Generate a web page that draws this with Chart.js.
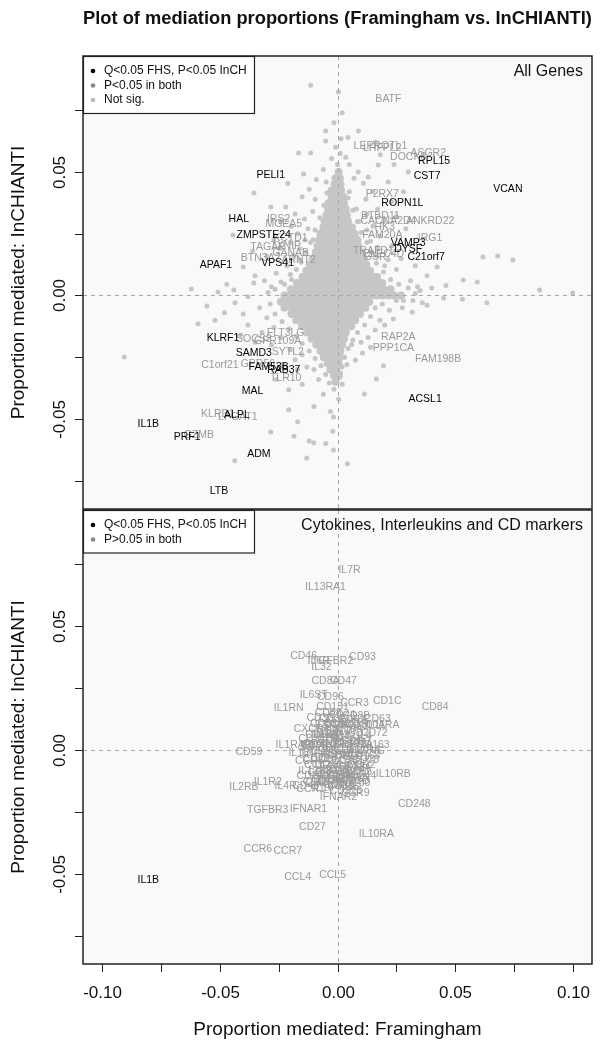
<!DOCTYPE html>
<html>
<head>
<meta charset="utf-8">
<script src="https://cdn.jsdelivr.net/npm/chart.js@4.4.0/dist/chart.umd.min.js"></script>
<style>
html, body { margin: 0; padding: 0; background: #fff; }
#wrap { position: relative; width: 603px; height: 1049px; }
canvas { position: absolute; left: 0; }
</style>
</head>
<body>
<div id="wrap">
  <canvas id="genes" width="603" height="510" style="top:0"></canvas>
  <canvas id="cyto" width="603" height="544" style="top:505px"></canvas>
</div>
<script>
const FONT = "'Liberation Sans', Arial, Helvetica, sans-serif";

// axis ranges and ticks (shared by both panels)
const X_MIN = -0.108, X_MAX = 0.108;
const Y_MIN = -0.0865, Y_MAX = 0.097;
const xTicks = [-0.1, -0.075, -0.05, -0.025, 0, 0.025, 0.05, 0.075, 0.1];
const xTickLabels = ["-0.10", "", "-0.05", "", "0.00", "", "0.05", "", "0.10"];
const yTicks = [-0.075, -0.05, -0.025, 0, 0.025, 0.05, 0.075];
const yTickLabels = ["", "-0.05", "", "0.00", "", "0.05", ""];

// panel 1: dense core of non-significant genes, one row of x values per y
const coreY = [0.05, 0.0475, 0.045, 0.0425, 0.04, 0.0375, 0.035, 0.0325, 0.03, 0.0275, 0.025, 0.0225,
  0.02, 0.0175, 0.015, 0.0125, 0.01, 0.0075, 0.005, 0.0025, 0, -0.0025, -0.005, -0.0075, -0.01,
  -0.0125, -0.015, -0.0175, -0.02, -0.0225, -0.025, -0.0275, -0.03, -0.0325, -0.035];
const coreX = [
  [0.0005],
  [-0.0008, 0.001],
  [-0.00125, 0.00125],
  [-0.0025, 0, 0.0015],
  [-0.0025, 0, 0.0025],
  [-0.00375, -0.00125, 0.00125, 0.00275],
  [-0.004, -0.0015, 0.001, 0.0035],
  [-0.00475, -0.00225, 0.00025, 0.00275, 0.004],
  [-0.0055, -0.003, -0.0005, 0.002, 0.0045],
  [-0.006, -0.0035, -0.001, 0.0015, 0.004, 0.0062],
  [-0.00725, -0.00475, -0.00225, 0.00025, 0.00275, 0.00525, 0.0072],
  [-0.0078, -0.0055, -0.003, -0.0005, 0.002, 0.0045, 0.007, 0.0085],
  [-0.0085, -0.00625, -0.00375, -0.00125, 0.00125, 0.00375, 0.00625, 0.0088],
  [-0.0092, -0.007, -0.0045, -0.002, 0.0005, 0.003, 0.0055, 0.008, 0.0102],
  [-0.0105, -0.00825, -0.00575, -0.00325, -0.00075, 0.00175, 0.00425, 0.00675, 0.00925, 0.0112],
  [-0.0118, -0.01, -0.0075, -0.005, -0.0025, 0, 0.0025, 0.005, 0.0075, 0.01, 0.0122],
  [-0.0132, -0.01125, -0.00875, -0.00625, -0.00375, -0.00125, 0.00125, 0.00375, 0.00625, 0.00875, 0.01125, 0.0138],
  [-0.0148, -0.0125, -0.01, -0.0075, -0.005, -0.0025, 0, 0.0025, 0.005, 0.0075, 0.01, 0.0125, 0.015, 0.0168],
  [-0.0172, -0.01525, -0.01275, -0.01025, -0.00775, -0.00525, -0.00275, -0.00025, 0.00225, 0.00475, 0.00725, 0.00975, 0.01225, 0.01475, 0.0172, 0.019],
  [-0.0198, -0.0175, -0.0155, -0.013, -0.0105, -0.008, -0.0055, -0.003, -0.0005, 0.002, 0.0045, 0.007, 0.0095, 0.012, 0.0145, 0.017, 0.0195, 0.0225],
  [-0.0225, -0.02, -0.0185, -0.016, -0.0135, -0.011, -0.0085, -0.006, -0.0035, -0.001, 0.0015, 0.004, 0.0065, 0.009, 0.0115, 0.014, 0.0165, 0.019, 0.0215, 0.024, 0.027],
  [-0.024, -0.0215, -0.019, -0.016, -0.0135, -0.011, -0.0085, -0.006, -0.0035, -0.001, 0.0015, 0.004, 0.0065, 0.009, 0.0115, 0.0135],
  [-0.0225, -0.0195, -0.017, -0.0145, -0.012, -0.0095, -0.007, -0.0045, -0.002, 0.0005, 0.003, 0.0055, 0.008, 0.0105, 0.0118],
  [-0.0195, -0.0175, -0.015, -0.0125, -0.01, -0.0085, -0.006, -0.0035, -0.001, 0.0015, 0.004, 0.0065, 0.0095],
  [-0.0175, -0.015, -0.0125, -0.0105, -0.0085, -0.006, -0.0035, -0.001, 0.0015, 0.004, 0.0065, 0.0075],
  [-0.015, -0.0125, -0.0105, -0.008, -0.0055, -0.003, -0.0005, 0.002, 0.0045, 0.0058],
  [-0.0128, -0.0105, -0.0085, -0.006, -0.0035, -0.001, 0.0015, 0.0035],
  [-0.011, -0.009, -0.0065, -0.004, -0.0015, 0.001, 0.0028],
  [-0.009, -0.007, -0.0045, -0.002, 0.0005, 0.002],
  [-0.0072, -0.005, -0.0025, 0, 0.0012],
  [-0.0058, -0.0035, -0.001, 0.001],
  [-0.0042, -0.002, 0.0005],
  [-0.003, -0.0005],
  [-0.0015, 0.0005],
  [-0.0008]
];

// panel 1: scattered non-significant genes [FHS, InCHIANTI]
const notSigPoints = [
  [-0.0114, 0.0852], [0.0004, 0.0824], [-0.005, 0.0666], [-0.005, 0.0626], [0.0089, 0.0666], [0.0045, 0.064],
  [-0.0015, 0.07], [0.002, 0.074], [-0.0008, 0.06], [0.0012, 0.0575], [-0.0025, 0.0555], [0.0035, 0.056],
  [0, 0.053], [-0.0165, 0.0577], [-0.0114, 0.0577], [-0.0144, 0.0492], [-0.0211, 0.0455], [-0.0355, 0.0415],
  [0.016, 0.0621], [0.0173, 0.0528], [0.011, 0.0455], [0.0088, 0.05], [0.0015, 0.0635], [0.005, 0.053],
  [0.007, 0.0475], [0.013, 0.048], [-0.006, 0.051], [-0.009, 0.047], [-0.0048, 0.046],
  [-0.0283, 0.0358], [-0.022, 0.0358], [-0.015, 0.04], [-0.012, 0.043], [-0.0095, 0.039], [-0.018, 0.033],
  [-0.024, 0.03], [-0.0195, 0.028], [-0.014, 0.031], [-0.0105, 0.034], [-0.0444, 0.0245], [-0.04, 0.0115],
  [-0.036, 0.018], [-0.03, 0.016], [-0.027, 0.023], [-0.0245, 0.019], [-0.02, 0.0215], [-0.017, 0.025],
  [-0.0185, 0.016], [-0.0215, 0.012], [-0.026, 0.009], [-0.031, 0.006], [-0.035, 0.008], [-0.062, 0.0026],
  [-0.0507, 0.0014], [-0.044, 0.0022], [-0.0355, 0.005], [-0.028, 0.0035], [-0.038, -0.0005], [-0.047, 0.0045],
  [-0.024, 0.0055], [-0.02, 0.0085], [-0.016, 0.019], [-0.0125, 0.027], [-0.0105, 0.0225],
  [0.0182, 0.057], [0.024, 0.053], [0.03, 0.05], [0.0215, 0.046], [0.015, 0.042], [0.012, 0.039], [0.017, 0.035],
  [0.023, 0.038], [0.028, 0.042], [0.0125, 0.033], [0.015, 0.028], [0.0195, 0.03], [0.025, 0.032], [0.029, 0.027],
  [0.018, 0.024], [0.023, 0.02], [0.014, 0.022], [0.027, 0.015], [0.033, 0.012], [0.031, 0.006], [0.038, 0.008],
  [0.0423, 0.0115], [0.0617, 0.0156], [0.068, 0.016], [0.0744, 0.0144], [0.0533, 0.0063], [0.0593, 0.0055],
  [0.0858, 0.0022], [0.0998, 0.001], [0.046, 0.004], [0.04, 0.003], [0.035, 0.002], [0.02, 0.012], [0.0165, 0.016],
  [0.009, 0.03], [0.008, 0.035], [0.005, 0.042],
  [0.0634, -0.003], [0.053, -0.0015], [0.045, -0.001], [0.038, -0.004], [0.036, -0.003], [0.0317, -0.0067],
  [0.0237, -0.0095], [0.0275, -0.005], [0.02, -0.012], [0.016, -0.014], [0.013, -0.017], [0.018, -0.01],
  [0.022, -0.006], [0.0106, -0.0233], [0.0076, -0.0261], [0.0195, -0.0285], [0.0165, -0.0338], [0.0114, -0.0399],
  [0.0013, -0.0314], [-0.0017, -0.0492], [-0.0017, -0.0626], [0.0042, -0.0682], [-0.0015, -0.038], [0.0005, -0.042],
  [-0.002, -0.055], [0.01, -0.019], [0.006, -0.02], [0.014, -0.021], [0.004, -0.028], [0.002, -0.036],
  [0.025, -0.002], [0.028, -0.002],
  [-0.0905, -0.0249], [-0.0592, -0.0115], [-0.0554, -0.0043], [-0.052, -0.01], [-0.048, -0.007], [-0.0435, -0.003],
  [-0.04, -0.0075], [-0.038, -0.012], [-0.033, -0.005], [-0.03, -0.009], [-0.032, -0.015], [-0.027, -0.013],
  [-0.024, -0.017], [-0.028, -0.02], [-0.02, -0.022], [-0.018, -0.026], [-0.015, -0.024], [-0.013, -0.029],
  [-0.017, -0.03], [-0.0207, -0.0382], [-0.015, -0.036], [-0.008, -0.034], [-0.01, -0.03], [-0.006, -0.04],
  [-0.0283, -0.0553], [-0.0436, -0.067], [-0.0207, -0.0463], [-0.0169, -0.0512], [-0.0185, -0.057], [-0.012, -0.059],
  [-0.0101, -0.0597], [-0.0131, -0.0658], [-0.003, -0.047], [-0.005, -0.06], [-0.01, -0.045], [-0.026, -0.034],
  [-0.023, -0.028], [-0.035, -0.019], [-0.041, -0.016],
  // halo around the core
  [-0.0115, 0.0215], [-0.0135, 0.0175], [-0.0155, 0.0135], [-0.0175, 0.0105], [-0.0195, 0.0065], [-0.0225, 0.0045],
  [-0.0265, 0.0025], [-0.0295, 0.0012], [-0.0095, 0.0265], [-0.0075, 0.0315], [-0.0058, 0.0365], [-0.0045, 0.0415],
  [-0.0138, 0.0225], [-0.016, 0.0145],
  [0.0125, 0.0215], [0.0145, 0.0175], [0.0165, 0.013], [0.0195, 0.0095], [0.0225, 0.0065], [0.026, 0.0045],
  [0.03, 0.003], [0.033, 0.0008], [0.01, 0.0255], [0.0085, 0.03], [0.0065, 0.0345], [0.0045, 0.0395],
  [0.0125, 0.0265], [0.017, 0.0195], [0.0215, 0.0145], [0.025, 0.0105], [0.0105, 0.0165],
  [-0.0285, -0.0035], [-0.0265, -0.0075], [-0.0235, -0.0105], [-0.0205, -0.0135], [-0.0175, -0.0165],
  [-0.015, -0.0195], [-0.012, -0.0225], [-0.0095, -0.0255], [-0.007, -0.0285], [-0.005, -0.032], [-0.0035, -0.0355],
  [0.016, -0.005], [0.014, -0.0085], [0.0115, -0.012], [0.0085, -0.015], [0.0065, -0.018], [0.0045, -0.0215],
  [0.003, -0.025], [0.002, -0.029], [0.001, -0.033], [0.019, -0.0035], [0.032, -0.002], [0.034, 0.0035]
];

// panel 1: Q<0.05 FHS, P<0.05 InCH (black labels)
const sigGenes = ["PELI1", "HAL", "ZMPSTE24", "APAF1", "VPS41", "RPL15", "CST7", "VCAN", "ROPN1L", "VAMP3",
  "DYSF", "C21orf7", "KLRF1", "SAMD3", "FAM53B", "RAB37", "MAL", "ALPL", "IL1B", "PRF1", "ADM", "LTB", "ACSL1"];
const sigGenesX = [-0.0283, -0.0419, -0.0313, -0.0516, -0.0254, 0.041, 0.038, 0.0723, 0.0275, 0.03,
  0.03, 0.0376, -0.0486, -0.0355, -0.0292, -0.0228, -0.036, -0.0427, -0.0803, -0.0638, -0.0334, -0.0503, 0.0372];
const sigGenesY = [0.0488, 0.031, 0.0245, 0.0123, 0.0132, 0.0545, 0.0484, 0.0431, 0.0374, 0.0213,
  0.0188, 0.0156, -0.0172, -0.0233, -0.029, -0.0302, -0.0387, -0.0484, -0.052, -0.0573, -0.0642, -0.0791, -0.0419];

// panel 1: P<0.05 in both (grey labels)
const bothGenes = ["BATF", "LEPROTL1", "LHFPL2", "ASGR2", "DOCK8", "P2RX7", "BTBD11", "CACNA2D4", "ANKRD22",
  "HK3", "FAM20A", "IRG1", "TRAFD1", "CLEC4D", "GSR", "IRS2", "MGEA5", "KCTD1", "TAGAP", "TXNIP", "BTN3A2",
  "GANAB", "ARNT2", "SOCS3", "FLT3LG", "GPR109A", "SYTL2", "C1orf21", "GPR56", "TLR10", "KLRD1", "LPGAT1",
  "GZMB", "RAP2A", "PPP1CA", "FAM198B"];
const bothGenesX = [0.0216, 0.0182, 0.019, 0.0385, 0.03, 0.019, 0.0182, 0.0216, 0.0393,
  0.02, 0.019, 0.0393, 0.0152, 0.0195, 0.016, -0.025, -0.0228, -0.02, -0.0296, -0.022, -0.0326,
  -0.0199, -0.0165, -0.0355, -0.022, -0.0254, -0.0211, -0.0499, -0.0338, -0.022, -0.0507, -0.0423,
  -0.0588, 0.0258, 0.0237, 0.0427];
const bothGenesY = [0.0796, 0.0605, 0.0597, 0.0577, 0.056, 0.041, 0.0322, 0.03, 0.0302,
  0.0277, 0.0245, 0.0233, 0.018, 0.0168, 0.0156, 0.031, 0.029, 0.0233, 0.0196, 0.02, 0.0152,
  0.0172, 0.0144, -0.0176, -0.0152, -0.0184, -0.0229, -0.0281, -0.0277, -0.0334, -0.048, -0.0492,
  -0.0565, -0.0168, -0.0213, -0.0257];

// panel 2: cytokines, interleukins and CD markers
const cytoSig = ["IL1B"];
const cytoSigX = [-0.0803];
const cytoSigY = [-0.0524];
const cytoNames = ["IL7R", "IL13RA1", "CD46", "IL6R", "TGFBR2", "CD93", "IL32", "CD8A", "CD47", "IL6ST",
  "CD96", "CCR3", "CD1C", "CD84", "IL1RN", "CD151", "CD63", "CD300A", "IL11RA", "CD72", "CD163", "IFNG",
  "CD164", "CD59", "IL1RAP", "IL18", "IL10RB", "IL1R2", "IL2RB", "IL4R", "CD40", "CCR1", "CD39", "IFNAR2",
  "IFNAR1", "TGFBR3", "CD248", "CD27", "IL10RA", "CCR6", "CCR7", "CCL4", "CCL5",
  "CD58", "CD3E", "CD44", "CD52", "CD53", "CD37", "CD74", "CD97", "CD2", "CD69", "CD82", "CD5", "CD6", "CD7",
  "CD99", "IL2RG", "CD86", "CD83", "CD14", "CD19", "CD22", "CD33", "CD36", "CD38", "CD48", "CD55", "CD68",
  "CD70", "CD79A", "CD79B", "CD80", "CD101", "IL15", "IL16", "IL17RA", "IL18R1", "IL21R", "IL27RA", "CXCR4",
  "IL12RB1", "CCR2", "CCR5", "CD226",
  "CD3D", "CD3G", "CD8B", "CD24", "CD28", "CD9", "CD81", "CD160", "CD180", "CD200", "CD244", "CD247",
  "CD274", "CD276", "CD320", "IL4", "IL5RA", "IL8", "IL10", "IL12A", "IL23A", "CCL2", "CCL3", "CCR4",
  "CCR9", "TNF", "TNFRSF1A", "TNFRSF1B", "IFNGR1", "TGFB1", "TGFBR1", "CD1D"];
const cytoX = [0.0051, -0.0051, -0.0144, -0.008, -0.0021, 0.0106, -0.0068, -0.0051, 0.0025, -0.0101,
  -0.003, 0.0072, 0.0211, 0.0414, -0.0207, -0.0021, 0.0169, 0.0118, 0.019, 0.0156, 0.0152, 0.0148,
  0.0114, -0.0376, -0.0186, -0.0165, 0.0237, -0.0296, -0.0397, -0.022, -0.0135, -0.0114, 0.0013, 0.0004,
  -0.0123, -0.0296, 0.0326, -0.0106, 0.0165, -0.0338, -0.0211, -0.0169, -0.0021,
  -0.004, -0.002, 0.002, 0.006, -0.006, 0, 0.005, -0.003, 0.009, -0.008, 0.002, -0.004, 0.006, 0.01,
  -0.01, 0, 0.004, -0.006, -0.0005, 0.008, -0.009, 0.003, -0.004, 0.006, -0.001, 0.009, -0.007,
  0.002, 0.006, -0.004, -0.009, 0.001, 0.005, -0.006, 0.011, -0.002, 0.0075, -0.0015, -0.011,
  -0.008, 0.01, -0.012, 0.0035,
  0.003, -0.007, 0.008, -0.011, 0.012, 0.0065, -0.0025, -0.0065, 0.007, -0.0105, 0.0095, -0.0045,
  0.0025, 0.0055, -0.0075, 0.0115, -0.0035, -0.0125, 0.0035, -0.0055, 0.0085, -0.0085, 0.0045, -0.0025,
  0.0075, -0.0015, 0.0035, -0.0045, 0.0005, -0.0085, 0.0035, 0.0075];
const cytoY = [0.0727, 0.0658, 0.0379, 0.0358, 0.0358, 0.0375, 0.0334, 0.0277, 0.0277, 0.0221,
  0.0213, 0.0188, 0.0196, 0.0172, 0.0168, 0.0172, 0.0124, 0.01, 0.0099, 0.0067, 0.0018, -0.0006,
  -0.0026, -0.001, 0.0018, -0.0014, -0.0099, -0.0128, -0.0152, -0.0145, -0.0145, -0.016, -0.0148, -0.0192,
  -0.0237, -0.0241, -0.022, -0.031, -0.0342, -0.0399, -0.0407, -0.0512, -0.0504,
  0.015, 0.0125, 0.014, 0.012, 0.0105, 0.01, 0.0085, 0.0075, 0.007, 0.006, 0.0055, 0.004, 0.0035, 0.003,
  0.002, 0.002, 0, -0.0005, -0.002, -0.003, -0.0035, -0.0045, -0.006, -0.007, -0.008, -0.009, -0.0095,
  -0.0105, -0.0115, -0.012, -0.013, -0.014, -0.015, -0.0155, 0, 0.006, 0.0105, -0.01, 0.0085,
  -0.0085, -0.006, -0.0045, -0.0165,
  0.0105, 0.013, 0.0135, 0.0045, -0.004, -0.0015, 0.0005, -0.0135, -0.0135, -0.0105, -0.0105, -0.0035,
  -0.0025, 0.002, 0.0025, 0.0055, 0.0095, 0.0015, 0.0075, 0.0065, -0.0075, -0.006, -0.0085, -0.0125,
  -0.0175, 0.0045, 0.0025, -0.0015, -0.0065, 0.001, -0.0115, -0.0125];

const LIGHT = "#c6c6c6", MID = "#888888", LABEL_GREY = "#999999";

function corePoints() {
  const pts = [];
  coreY.forEach((y, i) => coreX[i].forEach(x => pts.push({ x, y })));
  return pts;
}

function drawYAxis(ctx, a, y, title) {
  ctx.save();
  ctx.strokeStyle = "#222";
  ctx.lineWidth = 1;
  ctx.fillStyle = "#111";
  ctx.font = "17px " + FONT;
  ctx.textAlign = "center";
  ctx.textBaseline = "middle";
  yTicks.forEach((v, i) => {
    const py = Math.round(y.getPixelForValue(v)) + 0.5;
    ctx.beginPath();
    ctx.moveTo(a.left - 8, py);
    ctx.lineTo(a.left, py);
    ctx.stroke();
    if (yTickLabels[i]) {
      ctx.save();
      ctx.translate(60, py);
      ctx.rotate(-Math.PI / 2);
      ctx.fillText(yTickLabels[i], 0, 0);
      ctx.restore();
    }
  });
  ctx.font = "19px " + FONT;
  ctx.translate(19, (a.top + a.bottom) / 2);
  ctx.rotate(-Math.PI / 2);
  ctx.fillText(title, 0, 0);
  ctx.restore();
}

function drawLegend(ctx, a, entries) {
  const w = 171, h = 28 + 14.5 * (entries.length - 1);
  ctx.save();
  ctx.fillStyle = "#fff";
  ctx.fillRect(a.left, a.top, w, h);
  ctx.strokeStyle = "#222";
  ctx.lineWidth = 1.2;
  ctx.strokeRect(a.left + 0.5, a.top + 0.5, w, h);
  ctx.font = "12px " + FONT;
  ctx.textBaseline = "middle";
  ctx.textAlign = "left";
  entries.forEach((e, i) => {
    const cy = a.top + 15 + 14.5 * i;
    ctx.fillStyle = e.color;
    ctx.beginPath();
    ctx.arc(a.left + 10, cy, 2.3, 0, Math.PI * 2);
    ctx.fill();
    ctx.fillStyle = "#111";
    ctx.fillText(e.text, a.left + 21, cy);
  });
  ctx.restore();
}

function panelPlugin(cfg) {
  return {
    id: "panel_" + cfg.key,
    beforeDraw(chart) {
      const { ctx, chartArea: a } = chart;
      ctx.save();
      ctx.fillStyle = "#f9f9f9";
      ctx.fillRect(a.left, a.top, a.right - a.left, a.bottom - a.top);
      ctx.restore();
    },
    afterDatasetsDraw(chart) {
      const { ctx, chartArea: a, scales: { x, y } } = chart;
      ctx.save();
      ctx.beginPath();
      ctx.rect(a.left, a.top, a.right - a.left, a.bottom - a.top);
      ctx.clip();
      ctx.font = "10.5px " + FONT;
      ctx.textAlign = "center";
      ctx.textBaseline = "middle";
      cfg.labelGroups.forEach(g => {
        ctx.fillStyle = g.color;
        g.names.forEach((n, i) => ctx.fillText(n, x.getPixelForValue(g.xs[i]), y.getPixelForValue(g.ys[i])));
      });
      // dashed zero lines
      ctx.strokeStyle = "#a8a8a8";
      ctx.lineWidth = 1;
      ctx.setLineDash([4, 4]);
      const x0 = Math.round(x.getPixelForValue(0)) + 0.5;
      const y0 = Math.round(y.getPixelForValue(0)) + 0.5;
      ctx.beginPath();
      ctx.moveTo(x0, a.top);
      ctx.lineTo(x0, a.bottom);
      ctx.moveTo(a.left, y0);
      ctx.lineTo(a.right, y0);
      ctx.stroke();
      ctx.restore();

      drawLegend(ctx, a, cfg.legend);

      // panel caption, top right
      ctx.save();
      ctx.font = "16px " + FONT;
      ctx.fillStyle = "#111";
      ctx.textAlign = "right";
      ctx.textBaseline = "middle";
      ctx.fillText(cfg.caption, a.right - 9, a.top + 16);
      ctx.restore();

      // box
      ctx.save();
      ctx.strokeStyle = "#222";
      ctx.lineWidth = 1.5;
      ctx.strokeRect(a.left, a.top, a.right - a.left, a.bottom - a.top);
      ctx.restore();

      drawYAxis(ctx, a, y, "Proportion mediated: InCHIANTI");

      if (cfg.title) {
        ctx.save();
        ctx.font = "bold 18.3px " + FONT;
        ctx.fillStyle = "#111";
        ctx.textAlign = "center";
        ctx.textBaseline = "middle";
        ctx.fillText(cfg.title, (a.left + a.right) / 2, 19);
        ctx.restore();
      }

      if (cfg.xAxis) {
        ctx.save();
        ctx.strokeStyle = "#222";
        ctx.lineWidth = 1;
        ctx.fillStyle = "#111";
        ctx.font = "17px " + FONT;
        ctx.textAlign = "center";
        ctx.textBaseline = "middle";
        xTicks.forEach((v, i) => {
          const px = Math.round(x.getPixelForValue(v)) + 0.5;
          ctx.beginPath();
          ctx.moveTo(px, a.bottom);
          ctx.lineTo(px, a.bottom + 8);
          ctx.stroke();
          if (xTickLabels[i]) ctx.fillText(xTickLabels[i], px, a.bottom + 29);
        });
        ctx.font = "19px " + FONT;
        ctx.fillText("Proportion mediated: Framingham", (a.left + a.right) / 2, a.bottom + 66);
        ctx.restore();
      }
    }
  };
}

function baseOptions(padding) {
  return {
    responsive: false,
    animation: false,
    devicePixelRatio: 1,
    layout: { padding, autoPadding: false },
    scales: {
      x: { type: "linear", min: X_MIN, max: X_MAX, display: false },
      y: { type: "linear", min: Y_MIN, max: Y_MAX, display: false }
    },
    plugins: {
      legend: { display: false },
      tooltip: { enabled: false }
    }
  };
}

new Chart(document.getElementById("genes").getContext("2d"), {
  type: "scatter",
  data: {
    datasets: [
      {
        data: corePoints(),
        pointRadius: 4,
        pointBackgroundColor: LIGHT,
        pointBorderWidth: 0
      },
      {
        data: notSigPoints.map(([x, y]) => ({ x, y })),
        pointRadius: 2.5,
        pointBackgroundColor: LIGHT,
        pointBorderWidth: 0
      }
    ]
  },
  options: baseOptions({ left: 83, right: 11, top: 56, bottom: 1 }),
  plugins: [panelPlugin({
    key: "genes",
    title: "Plot of mediation proportions (Framingham vs. InCHIANTI)",
    caption: "All Genes",
    legend: [
      { color: "#000", text: "Q<0.05 FHS, P<0.05 InCH" },
      { color: MID, text: "P<0.05 in both" },
      { color: "#bbbbbb", text: "Not sig." }
    ],
    labelGroups: [
      { color: LABEL_GREY, names: bothGenes, xs: bothGenesX, ys: bothGenesY },
      { color: "#000", names: sigGenes, xs: sigGenesX, ys: sigGenesY }
    ]
  })]
});

new Chart(document.getElementById("cyto").getContext("2d"), {
  type: "scatter",
  data: {
    datasets: [{
      data: cytoX.map((x, i) => ({ x, y: cytoY[i] })),
      pointRadius: 0
    }]
  },
  options: baseOptions({ left: 83, right: 11, top: 5, bottom: 85 }),
  plugins: [panelPlugin({
    key: "cyto",
    caption: "Cytokines, Interleukins and CD markers",
    xAxis: true,
    legend: [
      { color: "#000", text: "Q<0.05 FHS, P<0.05 InCH" },
      { color: MID, text: "P>0.05 in both" }
    ],
    labelGroups: [
      { color: LABEL_GREY, names: cytoNames, xs: cytoX, ys: cytoY },
      { color: "#000", names: cytoSig, xs: cytoSigX, ys: cytoSigY }
    ]
  })]
});
</script>
</body>
</html>
